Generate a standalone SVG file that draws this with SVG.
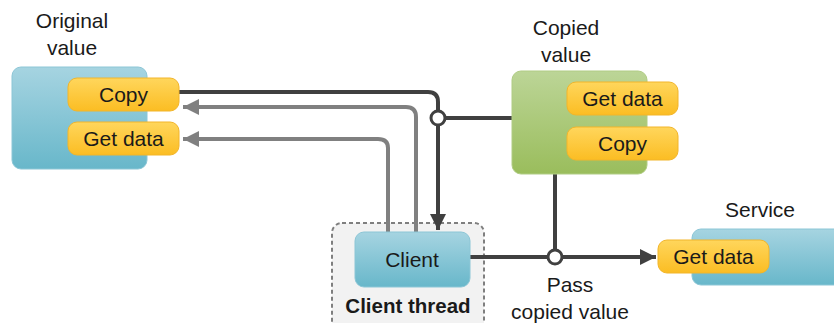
<svg xmlns="http://www.w3.org/2000/svg" width="834" height="323" viewBox="0 0 834 323">
  <defs>
    <linearGradient id="blueGrad" x1="0" y1="0" x2="0" y2="1">
      <stop offset="0" stop-color="#a6d4e1"/>
      <stop offset="1" stop-color="#68b7ca"/>
    </linearGradient>
    <linearGradient id="greenGrad" x1="0" y1="0" x2="0" y2="1">
      <stop offset="0" stop-color="#bcd597"/>
      <stop offset="1" stop-color="#9abd5c"/>
    </linearGradient>
    <linearGradient id="pillGrad" x1="0" y1="0" x2="0" y2="1">
      <stop offset="0" stop-color="#ffd65c"/>
      <stop offset="1" stop-color="#fbbd23"/>
    </linearGradient>
    <marker id="arrowDark" markerUnits="userSpaceOnUse" markerWidth="18" markerHeight="18" viewBox="0 0 18 18" refX="16" refY="9" orient="auto">
      <path d="M0,1 L16,9 L0,17 Z" fill="#404040"/>
    </marker>
    <marker id="arrowGray" markerUnits="userSpaceOnUse" markerWidth="18" markerHeight="18" viewBox="0 0 18 18" refX="16" refY="9" orient="auto">
      <path d="M0,1 L16,9 L0,17 Z" fill="#808080"/>
    </marker>
    <style>
      text { font-family: "Liberation Sans", Arial, sans-serif; font-size: 21px; fill: #1a1a1a; text-anchor: middle; }
      .bold { font-weight: bold; font-size: 20.5px; }
      .box-blue { fill: url(#blueGrad); stroke: #8cc6d6; stroke-width: 1; }
      .box-green { fill: url(#greenGrad); stroke: #b0cc84; stroke-width: 1; }
      .pill { fill: url(#pillGrad); stroke: #f2b52a; stroke-width: 1; }
      .thread { fill: #f2f2f2; stroke: #7f7f7f; stroke-width: 2; stroke-dasharray: 4 3; }
      .dark { fill: none; stroke: #404040; stroke-width: 4; }
      .gray { fill: none; stroke: #808080; stroke-width: 4; }
      .junction { fill: #ffffff; stroke: #404040; stroke-width: 3; }
    </style>
  </defs>

  <!-- Client thread container -->
  <g id="client-thread">
    <rect class="thread" x="332" y="223" width="152" height="112" rx="10"/>
    <text class="bold" x="408" y="313">Client thread</text>
  </g>

  <!-- Connectors -->
  <g id="connectors">
    <!-- copy request from client to original value -->
    <path class="dark" d="M179,92 H428 Q438,92 438,102 V230" marker-end="url(#arrowDark)"/>
    <!-- copied value returned -->
    <path class="gray" d="M416,232 V117 Q416,107 406,107 H183" marker-end="url(#arrowGray)"/>
    <!-- get data on original value -->
    <path class="gray" d="M388,232 V148 Q388,139 378,139 H183" marker-end="url(#arrowGray)"/>
    <!-- copied value joins the copy line -->
    <path class="dark" d="M445,118 H512"/>
    <!-- client passes copied value to service -->
    <path class="dark" d="M470,257 H656" marker-end="url(#arrowDark)"/>
    <path class="dark" d="M555,174 V250"/>
    <circle class="junction" cx="438" cy="118" r="7"/>
    <circle class="junction" cx="555" cy="257" r="7"/>
  </g>

  <!-- Original value -->
  <g id="original-value">
    <text x="72" y="28">Original</text>
    <text x="72" y="55">value</text>
    <rect class="box-blue" x="12" y="67" width="135" height="102" rx="9"/>
    <g id="original-copy">
      <rect class="pill" x="68" y="78" width="111" height="33" rx="9"/>
      <text x="123.5" y="102">Copy</text>
    </g>
    <g id="original-get-data">
      <rect class="pill" x="68" y="122" width="111" height="33" rx="9"/>
      <text x="123.5" y="146">Get data</text>
    </g>
  </g>

  <!-- Copied value -->
  <g id="copied-value">
    <text x="566" y="35">Copied</text>
    <text x="566" y="62">value</text>
    <rect class="box-green" x="512" y="71" width="135" height="103" rx="9"/>
    <g id="copied-get-data">
      <rect class="pill" x="567" y="82" width="111" height="33" rx="9"/>
      <text x="622.5" y="106">Get data</text>
    </g>
    <g id="copied-copy">
      <rect class="pill" x="567" y="127" width="111" height="33" rx="9"/>
      <text x="622.5" y="151">Copy</text>
    </g>
  </g>

  <!-- Client -->
  <g id="client">
    <rect class="box-blue" x="355" y="232" width="115" height="55" rx="9"/>
    <text x="412" y="267">Client</text>
  </g>

  <!-- Service -->
  <g id="service">
    <text x="760" y="217">Service</text>
    <rect class="box-blue" x="692" y="229" width="160" height="56" rx="9"/>
    <g id="service-get-data">
      <rect class="pill" x="658" y="240" width="111" height="33" rx="9"/>
      <text x="713.5" y="264">Get data</text>
    </g>
  </g>

  <!-- Label on the pass connector -->
  <g id="pass-label">
    <text x="570" y="292">Pass</text>
    <text x="570" y="319">copied value</text>
  </g>
</svg>
